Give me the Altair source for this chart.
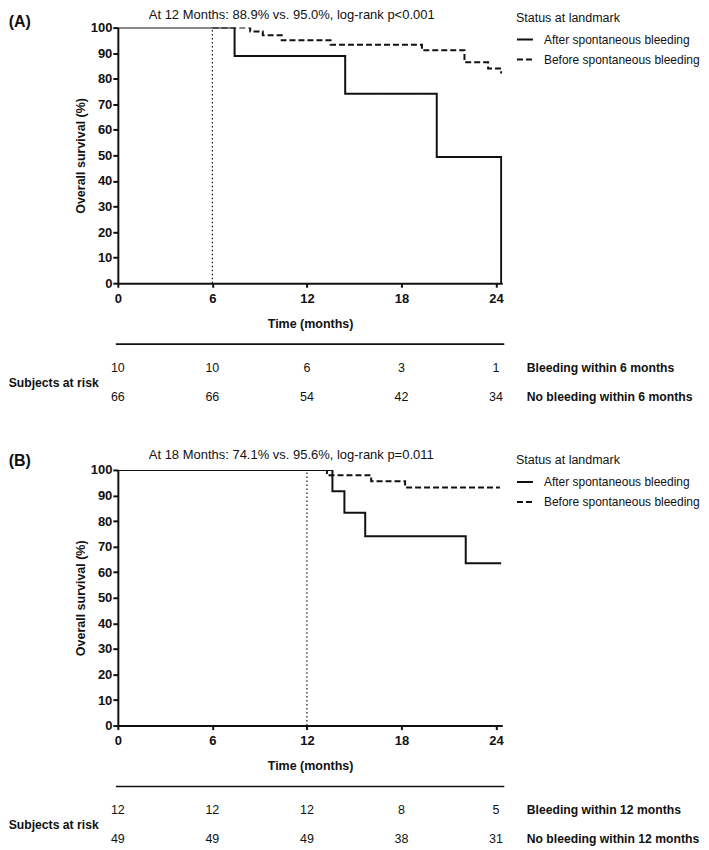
import altair as alt
import pandas as pd

FONT = "Liberation Sans"
INK = "#111111"

GROUPS = ["After spontaneous bleeding", "Before spontaneous bleeding"]

# ---- Panel A (landmark 6 months) ----
a_after_t = [0, 7.41, 14.43, 20.24, 24.33]
a_after_s = [100, 88.9, 74.1, 49.4, 0]
a_before_t = [6.0, 8.4, 9.2, 10.4, 13.5, 19.3, 22.0, 23.5, 24.33]
a_before_s = [100, 98.5, 97.0, 95.0, 93.3, 91.1, 86.4, 84.0, 82.0]

# ---- Panel B (landmark 12 months) ----
b_after_t = [0, 13.62, 14.38, 15.7, 22.08, 24.33]
b_after_s = [100, 91.7, 83.3, 74.1, 63.5, 63.5]
b_before_t = [12.0, 13.27, 16.08, 18.23, 24.25]
b_before_s = [100, 97.9, 95.6, 93.1, 93.1]

risk_times = [0, 6, 12, 18, 24]
a_risk_bleed = [10, 10, 6, 3, 1]
a_risk_nobleed = [66, 66, 54, 42, 34]
b_risk_bleed = [12, 12, 12, 8, 5]
b_risk_nobleed = [49, 49, 49, 38, 31]

x_ticks = [0, 6, 12, 18, 24]
y_ticks = list(range(0, 101, 10))

W, H = 385, 256
XMAX = 24.4


def curves_df(at, as_, bt, bs):
    rows = [{"t": t, "s": s, "group": GROUPS[0]} for t, s in zip(at, as_)]
    rows += [{"t": t, "s": s, "group": GROUPS[1]} for t, s in zip(bt, bs)]
    return pd.DataFrame(rows)


def one(**kw):
    return pd.DataFrame([kw])


def panel(tag, title, landmark, df, bleed, nobleed, lab_bleed, lab_nobleed,
          title_y, tag_y):
    x = alt.X(
        "t:Q",
        scale=alt.Scale(domain=[0, XMAX], nice=False, zero=False),
        axis=alt.Axis(
            values=x_ticks, format="d", title="Time (months)", grid=False,
            labelFont=FONT, labelFontSize=13, labelFontWeight="bold", labelColor=INK,
            titleFont=FONT, titleFontSize=12.5, titleFontWeight="bold", titleColor=INK,
            titlePadding=12, tickSize=4, tickWidth=2, tickColor=INK,
            domainWidth=2, domainColor=INK, labelPadding=5, labelFlush=False,
        ),
    )
    y = alt.Y(
        "s:Q",
        scale=alt.Scale(domain=[0, 100], nice=False),
        axis=alt.Axis(
            values=y_ticks, title="Overall survival (%)", grid=False,
            labelFont=FONT, labelFontSize=13, labelFontWeight="bold", labelColor=INK,
            titleFont=FONT, titleFontSize=12.5, titleFontWeight="bold", titleColor=INK,
            titlePadding=3, tickSize=5, tickWidth=2, tickColor=INK,
            domainWidth=2, domainColor=INK, labelPadding=1, labelFlush=False,
        ),
    )

    curves = alt.Chart(df).mark_line(
        interpolate="step-after", clip=True, strokeWidth=2, color=INK
    ).encode(
        x=x, y=y,
        strokeDash=alt.StrokeDash(
            "group:N",
            scale=alt.Scale(domain=GROUPS, range=[[1, 0], [6, 3]]),
            legend=alt.Legend(
                title="Status at landmark", orient="none",
                legendX=398.7, legendY=-15.5, direction="vertical",
                titleFont=FONT, titleFontSize=12.5, titleFontWeight="normal",
                titleColor=INK, labelFont=FONT, labelFontSize=12, labelColor=INK,
                symbolType="stroke", symbolSize=256, symbolStrokeWidth=2,
                symbolStrokeColor=INK, labelOffset=10, rowPadding=5,
                titlePadding=6, padding=0, offset=0,
            ),
        ),
    )

    rule = alt.Chart(pd.DataFrame({"t": [landmark], "s": [0], "s2": [100]})).mark_rule(
        strokeDash=[1.5, 2.5], strokeWidth=1.2, color=INK
    ).encode(x=x, y=y, y2="s2:Q")

    title_txt = alt.Chart(one(k=1)).mark_text(
        font=FONT, fontSize=13, color=INK, align="left", baseline="middle"
    ).encode(x=alt.value(31), y=alt.value(title_y), text=alt.value(title))

    tag_txt = alt.Chart(one(k=1)).mark_text(
        font=FONT, fontSize=16, fontWeight="bold", color=INK, align="left",
        baseline="middle"
    ).encode(x=alt.value(-109.3), y=alt.value(tag_y), text=alt.value(tag))

    sep = alt.Chart(one(k=1)).mark_rule(strokeWidth=1.6, color=INK).encode(
        x=alt.value(-2), x2=alt.value(387), y=alt.value(317)
    )

    r1 = alt.Chart(pd.DataFrame({"t": risk_times, "n": bleed})).mark_text(
        font=FONT, fontSize=12.5, color=INK, align="center", baseline="middle"
    ).encode(x=x, y=alt.value(341), text="n:N")
    r2 = alt.Chart(pd.DataFrame({"t": risk_times, "n": nobleed})).mark_text(
        font=FONT, fontSize=12.5, color=INK, align="center", baseline="middle"
    ).encode(x=x, y=alt.value(370), text="n:N")

    lab_style = dict(font=FONT, fontSize=12.2, fontWeight="bold", color=INK,
                     align="left", baseline="middle")
    l1 = alt.Chart(one(k=1)).mark_text(**lab_style).encode(
        x=alt.value(409.5), y=alt.value(341), text=alt.value(lab_bleed))
    l2 = alt.Chart(one(k=1)).mark_text(**lab_style).encode(
        x=alt.value(409.5), y=alt.value(370), text=alt.value(lab_nobleed))
    l0 = alt.Chart(one(k=1)).mark_text(**lab_style).encode(
        x=alt.value(-109.3), y=alt.value(355.5), text=alt.value("Subjects at risk"))

    return alt.layer(
        rule, curves, title_txt, tag_txt, sep, r1, r2, l1, l2, l0
    ).properties(width=W, height=H)


pa = panel(
    "(A)", "At 12 Months: 88.9% vs. 95.0%, log-rank p<0.001", 6,
    curves_df(a_after_t, a_after_s, a_before_t, a_before_s),
    a_risk_bleed, a_risk_nobleed,
    "Bleeding within 6 months", "No bleeding within 6 months",
    -13, -5.5,
)
pb = panel(
    "(B)", "At 18 Months: 74.1% vs. 95.6%, log-rank p=0.011", 12,
    curves_df(b_after_t, b_after_s, b_before_t, b_before_s),
    b_risk_bleed, b_risk_nobleed,
    "Bleeding within 12 months", "No bleeding within 12 months",
    -15, -9.2,
)

chart = (
    alt.vconcat(pa, pb, spacing=187, bounds="flush")
    .resolve_scale(x="independent", y="independent", strokeDash="independent")
    .resolve_legend(strokeDash="independent")
    .configure_view(strokeWidth=0)
    .properties(padding=0, background="white")
)

chart.save("out.html", embed_options={"renderer": "svg", "actions": False})
